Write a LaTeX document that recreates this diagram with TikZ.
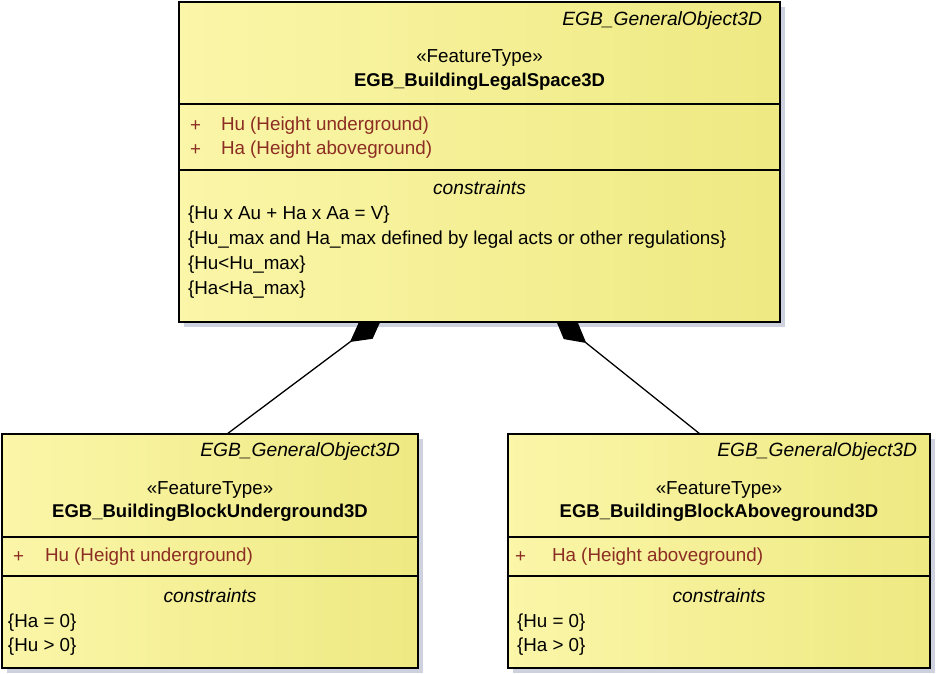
\documentclass[tikz,border=0pt]{standalone}
\usepackage{fontspec}
\setmainfont{Liberation Sans}
\usetikzlibrary{arrows.meta}
\definecolor{boxL}{RGB}{251,246,168}
\definecolor{boxR}{RGB}{238,233,130}
\definecolor{attrc}{RGB}{140,45,35}
\definecolor{shad}{RGB}{205,210,222}
\begin{document}
\begin{tikzpicture}[x=1pt,y=-1pt,
  font=\fontsize{18.8}{22}\selectfont,
  every node/.style={inner sep=0pt,outer sep=0pt},
  umlbox/.style={draw=black,line width=1.8pt,left color=boxL,right color=boxR,
    rectangle,anchor=north west},
  shadowbox/.style={fill=shad},
  sep/.style={line width=1.8pt},
  gen/.style={font=\fontsize{19.2}{22}\selectfont\itshape,anchor=east},
  cls/.style={font=\fontsize{18.5}{22}\selectfont\bfseries},
  ital/.style={font=\fontsize{19.2}{22}\selectfont\itshape},
  attr/.style={text=attrc,anchor=west},
  cons/.style={anchor=west},
  comp/.style={line width=1.3pt,-{Diamond[length=40pt,width=22pt]}}]
\useasboundingbox (0,0) rectangle (937,673);
\fill[white] (0,0) rectangle (937,673);

% shadows
\fill[shadowbox] (184,7) rectangle (785,327);
\fill[shadowbox] (7,439) rectangle (423,673);
\fill[shadowbox] (513,439) rectangle (935,673);

% connectors (diamond tips tucked just under the whole box)
\coordinate (lend) at (227,434);
\coordinate (ltop) at (382,318);
\coordinate (rend) at (700,434);
\coordinate (rtop) at (555,318);
\draw[comp] (lend) -- (ltop);
\draw[comp] (rend) -- (rtop);

% top class
\node[umlbox,minimum width=601pt,minimum height=320pt] (top) at (179,2) {};
\draw[sep] (179,104) -- (780,104);
\draw[sep] (179,170) -- (780,170);
\node[gen] (tgen) at (762,21) {EGB\_GeneralObject3D};
\node (tst) at (479.5,58) {«FeatureType»};
\node[cls] (tname) at (479.5,82) {EGB\_BuildingLegalSpace3D};
\node[attr] (tp1) at (190,126) {+};
\node[attr] (ta1) at (221,126) {Hu (Height underground)};
\node[attr] (tp2) at (190,150) {+};
\node[attr] (ta2) at (221,150) {Ha (Height aboveground)};
\node[ital] (tcons) at (479.5,188) {constraints};
\node[cons] (tc1) at (188,215) {\{Hu x Au + Ha x Aa = V\}};
\node[cons] (tc2) at (188,240) {\{Hu\_max and Ha\_max defined by legal acts or other regulations\}};
\node[cons] (tc3) at (188,265) {\{Hu<Hu\_max\}};
\node[cons] (tc4) at (188,290) {\{Ha<Ha\_max\}};

% bottom left class
\node[umlbox,minimum width=416pt,minimum height=234pt] (bl) at (2,434) {};
\draw[sep] (2,537) -- (418,537);
\draw[sep] (2,576) -- (418,576);
\node[gen] (lgen) at (400,452) {EGB\_GeneralObject3D};
\node (lst) at (210,490) {«FeatureType»};
\node[cls] (lname) at (210,513) {EGB\_BuildingBlockUnderground3D};
\node[attr] (lp1) at (13,557) {+};
\node[attr] (la1) at (45,557) {Hu (Height underground)};
\node[ital] (lcons) at (210,596) {constraints};
\node[cons] (lc1) at (8,623) {\{Ha = 0\}};
\node[cons] (lc2) at (8,647) {\{Hu > 0\}};

% bottom right class
\node[umlbox,minimum width=422pt,minimum height=234pt] (br) at (508,434) {};
\draw[sep] (508,537) -- (930,537);
\draw[sep] (508,576) -- (930,576);
\node[gen] (rgen) at (917,452) {EGB\_GeneralObject3D};
\node (rst) at (719,490) {«FeatureType»};
\node[cls] (rname) at (719,513) {EGB\_BuildingBlockAboveground3D};
\node[attr] (rp1) at (515,557) {+};
\node[attr] (ra1) at (552,557) {Ha (Height aboveground)};
\node[ital] (rcons) at (719,596) {constraints};
\node[cons] (rc1) at (517,623) {\{Hu = 0\}};
\node[cons] (rc2) at (517,647) {\{Ha > 0\}};
\end{tikzpicture}
\end{document}
